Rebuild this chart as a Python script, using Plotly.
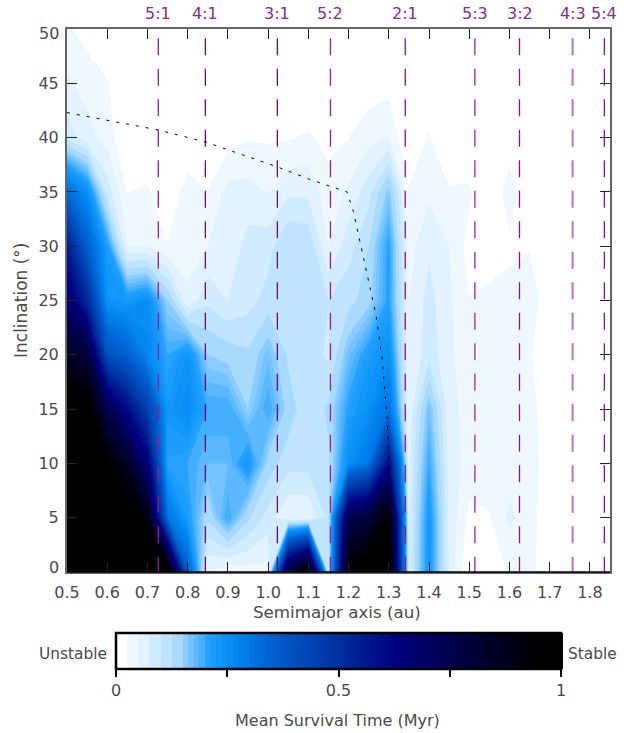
import plotly.graph_objects as go

semimajor = [0.5,0.55,0.6,0.65,0.7,0.75,0.8,0.85,0.9,0.95,1.0,1.05,1.1,1.15,1.2,1.25,1.3,1.35,1.4,1.45,1.5,1.55,1.6,1.65,1.7,1.75,1.8,1.85]
inclination = [0,5,10,15,20,25,30,35,40,45,50]

i00 = [1,1,1,1,1,1,.36,.05,.03,.04,.04,.8,1,.09,.95,1,1,.08,.23,.07,0,0,.03,.036,0,0,0,0]
i05 = [1,1,1,1,.9,.31,.22,.13,.2,.13,.09,.05,.05,.11,.75,.8,.95,.07,.23,.07,.018,.024,.055,.04,0,0,0,0]
i10 = [1,1,.95,.85,.65,.21,.2,.175,.175,.23,.14,.11,.11,.12,.25,.3,.6,.065,.2,.065,.04,.035,.04,.049,0,0,0,0]
i15 = [1,1,.75,.6,.45,.23,.26,.2,.2,.15,.2,.14,.105,.13,.21,.25,.31,.055,.17,.06,.04,.035,.035,.04,0,0,0,0]
i20 = [.85,.8,.4,.35,.27,.2,.24,.15,.14,.13,.17,.12,.115,.095,.17,.22,.25,.05,.09,.055,.035,.035,.035,.028,0,0,0,0]
i25 = [.68,.52,.24,.23,.25,.15,.055,.095,.075,.09,.11,.105,.11,.1,.115,.14,.21,.05,.085,.055,.026,.03,.033,.049,0,0,0,0]
i30 = [.55,.36,.22,.05,.05,.028,.04,.05,.055,.085,.09,.125,.12,.05,.09,.125,.21,.04,.07,.05,.015,.015,.02,.022,0,0,0,0]
i35 = [.33,.25,.09,.024,.03,0,.04,.026,.058,.06,.048,.07,.07,.035,.055,.09,.16,.028,.045,.028,.03,0,.04,0,0,0,0,0]
i40 = [.09,.06,.04,0,0,0,0,0,.015,.023,.022,.023,.028,.018,.025,.042,.05,0,.028,0,0,0,.01,0,0,0,0,0]
i45 = [.055,.04,.027,0,0,0,0,0,0,0,0,0,0,0,0,.01,.015,0,0,0,0,0,0,0,0,0,0,0]
i50 = [.03,.015,0,0,0,0,0,0,0,0,0,0,0,0,0,0,0,0,0,0,0,0,0,0,0,0,0,0]
survival = [i00,i05,i10,i15,i20,i25,i30,i35,i40,i45,i50]

res_labels = ["5:1","4:1","3:1","5:2","2:1","5:3","3:2","4:3","5:4"]
res_a = [0.727,0.844,1.023,1.155,1.341,1.514,1.625,1.757,1.836]
res_col = ["#9a1a9a","#6c0a78","#6c0a78","#9a1a9a","#8a1090","#a23aa2","#8a1090","#c070c0","#8a1090"]
res_w = [1.3,1.3,1.3,1.3,1.3,1.4,1.3,2,1.3]

dot_a = [0.5,0.6,0.727,0.844,1.023,1.1,1.196,1.212,1.241,1.268,1.283,1.295,1.303,1.31]
dot_i = [42.3,41.6,40.7,39.6,37.3,36.2,35,33.2,28.4,23.7,19.8,14.6,9.1,0]

y_tick_text = ["","5","10","15","20","25","30","35","40","45",""]

bands = [(0,.025,"#ffffff"),(.025,.05,"#f0f8ff"),(.05,.075,"#e2f3ff"),(.075,.1,"#d2ecff"),
         (.1,.125,"#c0e4ff"),(.125,.15,"#a8d9ff"),(.15,.1625,"#8accff"),(.1625,.175,"#74c2ff"),(.175,.1875,"#5cb8ff"),(.1875,.2,"#44aeff")]
scale = []
for lo, hi, c in bands:
    scale += [[lo, c], [hi, c]]
scale += [[.2,"#2ca4ff"],[.23,"#1298fa"],[.28,"#0082ec"],[.35,"#0060d0"],[.5,"#0030a0"],[.63,"#000080"],[.8,"#000038"],[.95,"#000000"],[1,"#000000"]]

FONT = "DejaVu Sans"
TXT = "#4a4a4a"
def px(x): return (x-67)/543
def py(y): return (572-y)/543

fig = go.Figure()
fig.add_trace(go.Contour(
    x=semimajor, y=inclination, z=survival, zmin=0, zmax=1, colorscale=scale,
    contours=dict(start=0, end=1, size=0.0125, coloring="fill", showlines=False),
    line=dict(width=0, smoothing=0),
    colorbar=dict(orientation="h", xref="paper", yref="paper", x=px(116), xanchor="left",
                  y=py(633), yanchor="top", lenmode="pixels", len=445, thicknessmode="pixels", thickness=36,
                  xpad=0, ypad=0, outlinecolor="#000", outlinewidth=2.5, tickmode="array",
                  tickvals=[0,.25,.5,.75,1], ticktext=["0","","0.5","","1"], ticks="outside", ticklen=7, tickwidth=2,
                  tickcolor="#000", tickfont=dict(family=FONT, size=16, color=TXT)),
))
for a, c, w in zip(res_a, res_col, res_w):
    fig.add_trace(go.Scatter(x=[a,a], y=[49.15,0], mode="lines", showlegend=False, hoverinfo="skip",
                             line=dict(color=c, width=w, dash="17px,13.5px")))
fig.add_trace(go.Scatter(x=dot_a, y=dot_i, mode="lines", showlegend=False, hoverinfo="skip",
                         line=dict(color="#000", width=1, dash="3px,7px")))

def note(x, y, text, size=15.4, **kw):
    kw.setdefault("xanchor", "center")
    return dict(x=px(x), y=py(y), xref="paper", yref="paper", yanchor="middle", text=text, showarrow=False,
                font=dict(family=FONT, size=size, color=TXT), **kw)

annos = [dict(x=a, y=1, xref="x", yref="paper", yanchor="middle", yshift=16, text=l, showarrow=False,
              font=dict(family=FONT, size=16, color="#8b2a8b")) for a, l in zip(res_a, res_labels)]
annos += [
    note(337, 612, "Semimajor axis (au)", 16.7),
    note(337, 720, "Mean Survival Time (Myr)", 16),
    note(109, 654, "Unstable", xanchor="right"),
    note(566, 654, "Stable", xanchor="left"),
    note(21, 300, "Inclination (°)", 17, textangle=-90),
    note(61, 567, "0", 16, xanchor="right"),
    note(61, 34, "50", 16, xanchor="right"),
]

fig.update_layout(
    width=630, height=733, autosize=False, margin=dict(l=67, r=20, t=29, b=161),
    paper_bgcolor="white", plot_bgcolor="white", annotations=annos, showlegend=False,
    xaxis=dict(range=[0.5,1.85], tickvals=[.5,.6,.7,.8,.9,1,1.1,1.2,1.3,1.4,1.5,1.6,1.7,1.8], tickformat=".1f",
               ticks="inside", ticklen=10, tickcolor="#222", tickwidth=1, showgrid=False, zeroline=False,
               showline=True, linecolor="#666", linewidth=2, mirror="ticks", ticklabelstandoff=5,
               tickfont=dict(family=FONT, size=16, color=TXT)),
    yaxis=dict(range=[0,50], tickvals=inclination, ticktext=y_tick_text, ticks="inside", ticklen=10, tickcolor="#222", tickwidth=1,
               showgrid=False, zeroline=False, showline=True, linecolor="#666", linewidth=2, mirror="ticks", ticklabelstandoff=3,
               tickfont=dict(family=FONT, size=16, color=TXT)),
    shapes=[dict(type="line", xref="paper", yref="paper", x0=0, x1=1, y0=0, y1=0, line=dict(color="#000", width=1.5))],
)
fig.write_html("out.html", config=dict(displayModeBar=False), post_script="document.body.style.margin='0';")
